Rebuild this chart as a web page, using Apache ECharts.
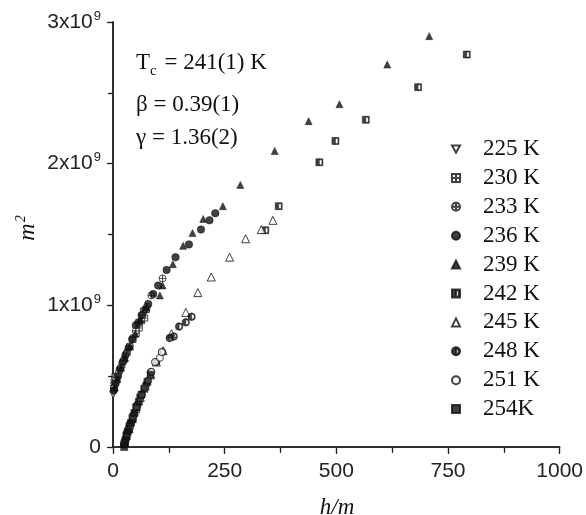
<!DOCTYPE html>
<html>
<head>
<meta charset="utf-8">
<script src="https://cdn.jsdelivr.net/npm/echarts@6/dist/echarts.min.js"></script>
<style>
  html, body { margin: 0; padding: 0; background: #fff; }
  #chart { width: 586px; height: 515px; }
</style>
</head>
<body>
<div id="chart"></div>
<script>
// [h/m, m^2 in units of 1e9]
const t225 = [[0.5,0.37],[1,0.39],[1.5,0.41],[2,0.43],[2.5,0.45],[3.5,0.47],[4.5,0.49]];
const t230 = [[5,0.45],[9,0.49],[14,0.54],[20,0.58],[26,0.62],[32,0.67],[38,0.71],[45,0.76],[52,0.80],[59,0.84],[64,0.89],[71,0.91],[68,0.96],[75,0.97]];
const t233 = [[3,0.42],[7,0.47],[12,0.52],[17,0.56],[23,0.61],[30,0.66],[37,0.71],[44,0.77],[51,0.82],[58,0.87],[66,0.93],[76,0.99],[86,1.07],[111,1.19]];
const t236 = [[2,0.40],[6,0.45],[11,0.50],[16,0.55],[22,0.60],[28,0.65],[35,0.70],[43,0.76],[51,0.86],[57,0.88],[64,0.93],[72,0.97],[79,1.01],[90,1.08],[101,1.14],[120,1.25],[140,1.34],[170,1.43],[197,1.535],[216,1.60],[229,1.65]];
const t239 = [[4,0.42],[10,0.48],[18,0.56],[27,0.63],[38,0.71],[50,0.80],[62,0.90],[75,0.99],[105,1.07],[111,1.14],[134,1.29],[157,1.42],[178,1.51],[202,1.61],[246,1.70],[285,1.85],[362,2.09],[438,2.30],[507,2.42],[614,2.70],[708,2.90]];
const t242 = [[26,0.03],[31,0.09],[37,0.15],[44,0.21],[52,0.28],[61,0.35],[341,1.53],[371,1.70],[462,2.01],[498,2.16],[566,2.31],[683,2.54],[792,2.77]];
const t245 = [[26,0.04],[30,0.08],[36,0.13],[43,0.20],[51,0.27],[61,0.35],[72,0.43],[84,0.51],[97,0.60],[112,0.68],[131,0.80],[163,0.95],[190,1.09],[220,1.20],[261,1.34],[297,1.47],[332,1.535],[358,1.60]];
const t248 = [[25,0.02],[29,0.06],[34,0.11],[40,0.17],[47,0.23],[55,0.30],[64,0.37],[74,0.44],[85,0.53],[97,0.60],[110,0.67],[127,0.77],[136,0.78],[148,0.85],[163,0.88],[176,0.92]];
const t251 = [[25,0.03],[31,0.085],[38,0.14],[45,0.21],[53,0.28],[64,0.37],[71,0.42],[79,0.47],[86,0.53],[94,0.60],[105,0.63],[109,0.67]];
const t254 = [[25,0.0],[26,0.02],[28,0.05],[30,0.08],[33,0.11],[36,0.13],[40,0.17],[44,0.20],[48,0.24],[53,0.28],[58,0.32],[64,0.37],[70,0.41],[77,0.46],[84,0.51]];

const names = ['225 K', '230 K', '233 K', '236 K', '239 K', '242 K', '245 K', '248 K', '251 K', '254K'];
const sets = [t225, t230, t233, t236, t239, t242, t245, t248, t251, t254];

const xTicks = [0, 250, 500, 750, 1000];
const yTicks = [0, 1, 2, 3];

// marker shapes
const DOWN_TRI = 'path://M0,0L10,0L5,9Z';
const SQ_CROSS = 'path://M0,0H10V10H0Z M5,0V10 M0,5H10';
const CIRC_CROSS = 'path://M0,5A5,5 0 1,1 10,5A5,5 0 1,1 0,5Z M5,0V10 M0,5H10';
const HALF_SQ = 'path://M0,0H5V10H0Z M5,0H10V10H5V8.6H8.6V1.4H5Z';
const HALF_CIRC = 'path://M5,0A5,5 0 0,0 5,10Z M5,0A5,5 0 0,1 5,10V8.6A3.6,3.6 0 0,0 5,1.4Z';

const open = { color: '#fff', borderColor: '#111', borderWidth: 1 };
const solid = { color: '#111', borderColor: '#111', borderWidth: 0.6 };
const styles = [
  { symbol: DOWN_TRI, size: 7, item: open },
  { symbol: SQ_CROSS, size: 6, item: { color: '#fff', borderColor: '#111', borderWidth: 0.9 } },
  { symbol: CIRC_CROSS, size: 7, item: { color: '#fff', borderColor: '#111', borderWidth: 0.9 } },
  { symbol: 'circle', size: 7.5, item: solid },
  { symbol: 'triangle', size: 7, item: solid },
  { symbol: HALF_SQ, size: 7, item: solid },
  { symbol: 'triangle', size: 8, item: open },
  { symbol: HALF_CIRC, size: 7.5, item: solid },
  { symbol: 'circle', size: 7, item: open },
  { symbol: 'rect', size: 7, item: solid }
];

const AX = '#222';
const sans = '"Liberation Sans", Arial, sans-serif';
const serif = '"Liberation Serif", "Times New Roman", serif';

const chart = echarts.init(document.getElementById('chart'));

chart.setOption({
  backgroundColor: '#fff',
  animation: false,
  grid: { left: 113, right: 25, top: 22, bottom: 68, containLabel: false },
  xAxis: [
    {
      type: 'value', min: 0, max: 1000, interval: 250, position: 'bottom',
      axisLine: { lineStyle: { color: AX, width: 1.5 } },
      axisTick: { inside: false, length: 7, lineStyle: { color: AX, width: 1.2 } },
      minorTick: { show: true, splitNumber: 2, length: 4, lineStyle: { color: AX, width: 1.2 } },
      splitLine: { show: false },
      axisLabel: {
        margin: 14, color: AX, fontFamily: sans, fontSize: 21,
        formatter: v => xTicks.includes(v) ? String(v) : ''
      }
    },
    {
      type: 'value', min: 0, max: 1000, interval: 125, position: 'top',
      axisLine: { lineStyle: { color: AX, width: 1.5 } },
      axisTick: { inside: true, length: 6, lineStyle: { color: AX, width: 1.2 } },
      axisLabel: { show: false }, splitLine: { show: false }
    }
  ],
  yAxis: [
    {
      type: 'value', min: 0, max: 3, interval: 1, position: 'left',
      axisLine: { lineStyle: { color: AX, width: 1.5 } },
      axisTick: { inside: false, length: 6, lineStyle: { color: AX, width: 1.2 } },
      minorTick: { show: true, splitNumber: 2, length: 4, lineStyle: { color: AX, width: 1.2 } },
      splitLine: { show: false },
      axisLabel: {
        margin: 12, color: AX, fontFamily: sans, fontSize: 21,
        formatter: v => {
          if (!yTicks.includes(v)) return '';
          return v === 0 ? '0' : '{b|' + v + 'x10}{s|9}';
        },
        rich: {
          b: { fontFamily: sans, fontSize: 21, color: AX },
          s: { fontFamily: sans, fontSize: 13, color: AX, padding: [0, 0, 12, 1] }
        }
      }
    },
    {
      type: 'value', min: 0, max: 3, interval: 0.5, position: 'right',
      axisLine: { lineStyle: { color: AX, width: 1.5 } },
      axisTick: { inside: true, length: 5, lineStyle: { color: AX, width: 1.2 } },
      axisLabel: { show: false }, splitLine: { show: false }
    }
  ],
  legend: {
    orient: 'vertical',
    left: 446, top: 132,
    itemWidth: 8, itemHeight: 8, itemGap: 4.9,
    data: names,
    textStyle: {
      fontFamily: serif, fontSize: 23, lineHeight: 24, color: '#111',
      padding: [0, 0, 0, 18]
    }
  },
  graphic: [
    {
      type: 'text', x: 136, y: 63,
      style: {
        text: '{a|T}{c|c}{a| = 241(1) K}',
        verticalAlign: 'middle',
        rich: {
          a: { fontFamily: serif, fontSize: 23, fill: '#111' },
          c: { fontFamily: serif, fontSize: 15, fill: '#111', padding: [16, 2, 0, 0] }
        }
      }
    },
    {
      type: 'text', x: 136, y: 105,
      style: { text: 'β = 0.39(1)', font: '23px ' + serif, fill: '#111', verticalAlign: 'middle' }
    },
    {
      type: 'text', x: 136, y: 138,
      style: { text: 'γ = 1.36(2)', font: '23px ' + serif, fill: '#111', verticalAlign: 'middle' }
    },
    {
      type: 'text', x: 337, y: 508,
      style: { text: 'h/m', font: 'italic 23px ' + serif, fill: '#111', align: 'center', verticalAlign: 'middle' }
    },
    {
      type: 'text', x: 28, y: 228, rotation: Math.PI / 2,
      style: {
        text: '{m|m}{s|2}',
        align: 'center', verticalAlign: 'middle',
        rich: {
          m: { fontFamily: serif, fontStyle: 'italic', fontSize: 24, fill: '#111' },
          s: { fontFamily: serif, fontStyle: 'italic', fontSize: 14, fill: '#111', padding: [0, 0, 14, 1] }
        }
      }
    }
  ],
  series: sets.map((d, i) => ({
    name: names[i],
    type: 'scatter',
    xAxisIndex: 0,
    yAxisIndex: 0,
    symbol: styles[i].symbol,
    symbolSize: styles[i].size,
    itemStyle: styles[i].item,
    emphasis: { disabled: true },
    data: d
  }))
});
</script>
</body>
</html>
